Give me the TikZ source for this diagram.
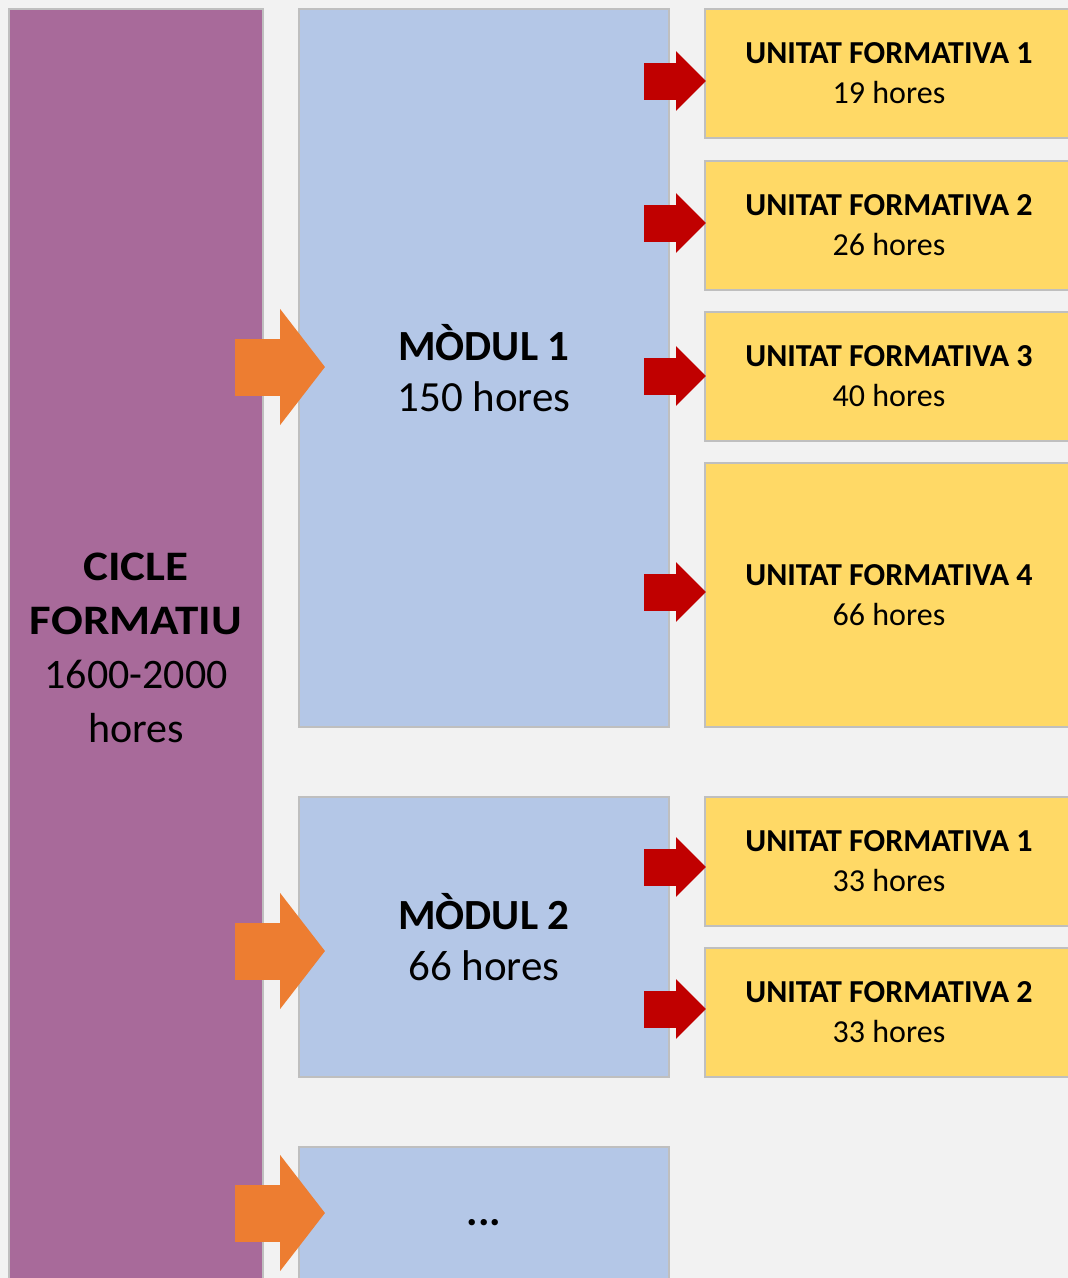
\documentclass[tikz,border=0pt]{standalone}
\usepackage{fontspec}
\setmainfont{Carlito}
\usetikzlibrary{arrows.meta}
\definecolor{fons}{HTML}{F2F2F2}
\definecolor{vora}{HTML}{BFBFBF}
\definecolor{lila}{HTML}{A86A9A}
\definecolor{blau}{HTML}{B4C7E7}
\definecolor{groc}{HTML}{FFD966}
\definecolor{taronja}{HTML}{ED7D31}
\definecolor{vermell}{HTML}{C00000}
\newcommand{\ampla}[1]{{\bfseries\addfontfeature{FakeStretch=1.12}#1}}
\begin{document}
\begin{tikzpicture}[x=1pt, y=-1pt,
	caixa/.style={draw=vora, line width=2pt, anchor=north west, inner sep=0pt, align=center},
	cicle/.style={caixa, fill=lila, font=\fontsize{42}{54}\selectfont},
	modul/.style={caixa, fill=blau, minimum width=370pt, font=\fontsize{43}{51}\selectfont},
	unitat/.style={caixa, fill=groc, minimum width=368pt, font=\fontsize{32}{40}\selectfont},
	fletxa/.style={taronja, line width=57pt, shorten <=-29pt, shorten >=-27pt, -{Triangle[length=45pt, width=114pt]}},
	fletxeta/.style={vermell, line width=37pt, shorten <=-26pt, shorten >=-2pt, -{Triangle[length=30pt, width=58pt]}}]
		\useasboundingbox (0,0) rectangle (1068,1278);
		\clip (0,0) rectangle (1068,1278);
		\fill[fons] (0,0) rectangle (1068,1278);
		\node[cicle, minimum width=254pt, minimum height=1278pt] (cicle) at (8,8) {\ampla{CICLE}\\\ampla{FORMATIU}\\1600-2000\\hores};
		\node[modul, minimum height=718pt] (m1) at (298,8) {\textbf{MÒDUL 1}\\150 hores};
		\node[modul, minimum height=280pt] (m2) at (298,796) {\textbf{MÒDUL 2}\\66 hores};
		\node[modul, minimum height=152pt] (m3) at (298,1146) {\textbf{...}};
		\node[unitat, minimum height=129pt] (u11) at (704,8) {\textbf{UNITAT FORMATIVA 1}\\19 hores};
		\node[unitat, minimum height=129pt] (u12) at (704,160) {\textbf{UNITAT FORMATIVA 2}\\26 hores};
		\node[unitat, minimum height=129pt] (u13) at (704,311) {\textbf{UNITAT FORMATIVA 3}\\40 hores};
		\node[unitat, minimum height=264pt] (u14) at (704,462) {\textbf{UNITAT FORMATIVA 4}\\66 hores};
		\node[unitat, minimum height=129pt] (u21) at (704,796) {\textbf{UNITAT FORMATIVA 1}\\33 hores};
		\node[unitat, minimum height=129pt] (u22) at (704,947) {\textbf{UNITAT FORMATIVA 2}\\33 hores};
		% fletxes del cicle als moduls
		\draw[fletxa] (cicle.east |- 0,367) -- (m1.west |- 0,367);
		\draw[fletxa] (cicle.east |- 0,951) -- (m2.west |- 0,951);
		\draw[fletxa] (cicle.east |- 0,1213) -- (m3.west |- 0,1213);
		% fletxes dels moduls a les unitats
		\draw[fletxeta] (m1.east |- 0,81) -- (u11.west |- 0,81);
		\draw[fletxeta] (m1.east |- 0,223) -- (u12.west |- 0,223);
		\draw[fletxeta] (m1.east |- 0,376) -- (u13.west |- 0,376);
		\draw[fletxeta] (m1.east |- 0,592) -- (u14.west |- 0,592);
		\draw[fletxeta] (m2.east |- 0,867) -- (u21.west |- 0,867);
		\draw[fletxeta] (m2.east |- 0,1009) -- (u22.west |- 0,1009);
	\end{tikzpicture}
\end{document}
